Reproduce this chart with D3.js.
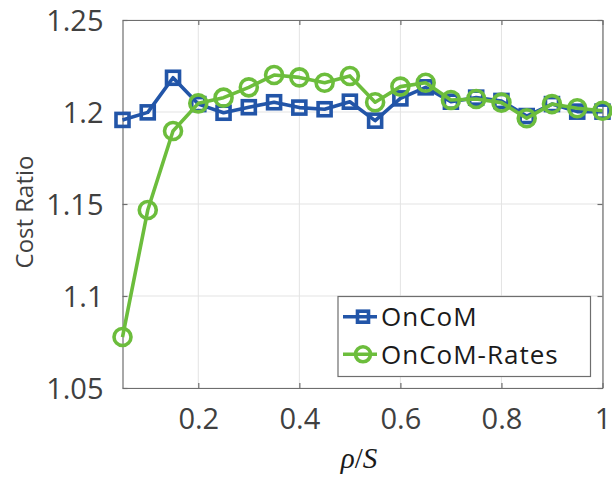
<!DOCTYPE html>
<html><head><meta charset="utf-8">
<script src="https://cdn.jsdelivr.net/npm/d3@7"></script>
<style>body{margin:0;background:#fff}svg{display:block}</style>
</head><body><svg id="c" width="612" height="481"></svg>
<script>
const xValues = [0.05,0.1,0.15,0.2,0.25,0.3,0.35,0.4,0.45,0.5,0.55,0.6,0.65,0.7,0.75,0.8,0.85,0.9,0.95,1.0];
const oncom = [1.1957,1.1998,1.2186,1.2043,1.1996,1.2026,1.2053,1.2024,1.2015,1.2056,1.1953,1.2074,1.2134,1.2056,1.2078,1.2060,1.1978,1.2043,1.2002,1.2002];
const oncomRates = [1.0777,1.1467,1.1897,1.2047,1.2078,1.2134,1.2201,1.2188,1.2159,1.2196,1.2053,1.2138,1.2159,1.2065,1.2071,1.2051,1.1966,1.2043,1.2020,1.2007];
const xTicks = [0.2,0.4,0.6,0.8,1];
const yTicks = [1.05,1.1,1.15,1.2,1.25];
const seriesNames = ["OnCoM","OnCoM-Rates"];
const colors = ["#2255a8","#6cbd3c"];

const svg = d3.select("#c");
const L=122.5, R=602.5, T=20, B=388;
const x = d3.scaleLinear().domain([0.05,1]).range([L,R]);
const y = d3.scaleLinear().domain([1.05,1.25]).range([B,T]);
const font = "'Open Sans', sans-serif";
const tc = "#404040";

// grid
svg.append("g").selectAll("line").data(xTicks).join("line")
  .attr("x1",d=>x(d)).attr("x2",d=>x(d)).attr("y1",T).attr("y2",B)
  .attr("stroke","#e3e3e3").attr("stroke-width",1);
svg.append("g").selectAll("line").data(yTicks).join("line")
  .attr("x1",L).attr("x2",R).attr("y1",d=>y(d)).attr("y2",d=>y(d))
  .attr("stroke","#e3e3e3").attr("stroke-width",1);

// axes
const ax = svg.append("g").attr("transform",`translate(0,${B})`)
  .call(d3.axisBottom(x).tickValues(xTicks).tickFormat(d3.format("~g")).tickSizeInner(-5).tickSizeOuter(0).tickPadding(20));
const axT = svg.append("g").attr("transform",`translate(0,${T})`)
  .call(d3.axisTop(x).tickValues(xTicks).tickFormat("").tickSizeInner(-5).tickSizeOuter(0));
const ay = svg.append("g").attr("transform",`translate(${L},0)`)
  .call(d3.axisLeft(y).tickValues(yTicks).tickFormat(d3.format("~g")).tickSizeInner(-5).tickSizeOuter(0).tickPadding(19));
const ayR = svg.append("g").attr("transform",`translate(${R},0)`)
  .call(d3.axisRight(y).tickValues(yTicks).tickFormat("").tickSizeInner(-5).tickSizeOuter(0));
[ax,axT,ay,ayR].forEach(g=>{
  g.select(".domain").attr("stroke","#6e6e6e").attr("stroke-width",1.2);
  g.selectAll(".tick line").attr("stroke","#6e6e6e").attr("stroke-width",1.2);
  g.selectAll("text").attr("font-family",font).attr("font-size",29).attr("fill",tc);
});
ax.selectAll("text").attr("dy","0.71em");
ay.selectAll("text").attr("dy","0.36em");

// lines
const line = d3.line().x((d,i)=>x(xValues[i])).y(d=>y(d));
function drawSeries(data, color, shape){
  svg.append("path").datum(data).attr("d",line).attr("fill","none")
    .attr("stroke",color).attr("stroke-width",3.6).attr("stroke-linejoin","round");
  const g = svg.append("g");
  if(shape==="square"){
    g.selectAll("rect").data(data).join("rect")
      .attr("x",(d,i)=>x(xValues[i])-6.5).attr("y",d=>y(d)-6.5)
      .attr("width",13).attr("height",13).attr("fill","none")
      .attr("stroke",color).attr("stroke-width",3.6);
  } else {
    g.selectAll("circle").data(data).join("circle")
      .attr("cx",(d,i)=>x(xValues[i])).attr("cy",d=>y(d)).attr("r",8.5)
      .attr("fill","none").attr("stroke",color).attr("stroke-width",3.6);
  }
}
drawSeries(oncom, colors[0], "square");
drawSeries(oncomRates, colors[1], "circle");

// legend
const lg = svg.append("g");
lg.append("rect").attr("x",338).attr("y",296.5).attr("width",252.5).attr("height",80)
  .attr("fill","#fff").attr("stroke","#6e6e6e").attr("stroke-width",1.2);
const rows=[316.7,354.3];
seriesNames.forEach((n,i)=>{
  const cy=rows[i], c=colors[i];
  lg.append("line").attr("x1",343).attr("x2",377).attr("y1",cy).attr("y2",cy)
    .attr("stroke",c).attr("stroke-width",3.6);
  if(i===0){
    lg.append("rect").attr("x",363-5.5).attr("y",cy-5.5).attr("width",11).attr("height",11)
      .attr("fill","none").attr("stroke",c).attr("stroke-width",3.6);
  } else {
    lg.append("circle").attr("cx",363).attr("cy",cy).attr("r",7.5)
      .attr("fill","none").attr("stroke",c).attr("stroke-width",3.6);
  }
  lg.append("text").attr("x",381).attr("y",cy).attr("dy","0.36em")
    .attr("font-family",font).attr("font-size",26).attr("letter-spacing","1px")
    .attr("fill","#1a1a1a").text(n);
});

// axis labels
svg.append("text").attr("transform","translate(33,212) rotate(-90)")
  .attr("text-anchor","middle").attr("font-family",font).attr("font-size",24)
  .attr("fill",tc).text("Cost Ratio");
const xl = svg.append("text").attr("x",359).attr("y",468).attr("text-anchor","middle")
  .attr("font-family","'Liberation Serif', serif").attr("font-style","italic")
  .attr("font-size",29).attr("fill","#1a1a1a");
xl.append("tspan").text("ρ");
xl.append("tspan").attr("font-style","normal").text("/");
xl.append("tspan").text("S");
</script></body></html>
